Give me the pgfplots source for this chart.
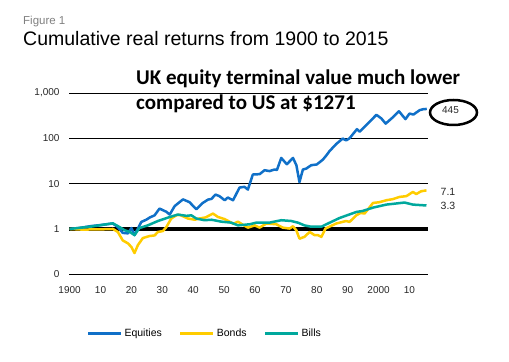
\documentclass[border=0pt]{standalone}
\usepackage{pgfplots}
\pgfplotsset{compat=1.18}
\usepackage{fontspec}
\setmainfont{Liberation Sans}
\newfontfamily\carlito{Carlito}
\definecolor{eqblue}{RGB}{16,112,200}
\definecolor{bdyellow}{RGB}{255,204,0}
\definecolor{blteal}{RGB}{0,168,157}
\definecolor{figgrey}{RGB}{128,128,128}
\begin{document}
\begin{tikzpicture}
\path[use as bounding box] (0,0) rectangle (509bp,362bp);
\node[anchor=base west, inner sep=0, text=figgrey, font=\fontsize{11.5bp}{13bp}\selectfont] at (23bp,337bp) {Figure 1};
\node[anchor=base west, inner sep=0, font=\fontsize{19.5bp}{22bp}\selectfont] at (23bp,316bp) {Cumulative real returns from 1900 to 2015};
\begin{axis}[
  at={(69bp,87.7bp)}, anchor=south west,
  scale only axis, width=359bp, height=181.3bp,
  xmin=1899.8, xmax=2016, ymode=log, ymin=0.1, ymax=1000,
  axis line style={draw=none},
  major tick length=0,
  xtick={1900,1910,1920,1930,1940,1950,1960,1970,1980,1990,2000,2010},
  xticklabels={1900,10,20,30,40,50,60,70,80,90,2000,10},
  ytick={0.1,10,100,1000},
  yticklabels={0,10,100,{1,000}},
  extra y ticks={1}, extra y tick labels={1},
  extra y tick style={grid style={black, line width=4bp}},
  ymajorgrids, grid style={black, line width=0.8bp},
  /pgf/number format/assume math mode=true,
  tick label style={font=\fontsize{10bp}{12bp}\selectfont, text=black!85},
  yticklabel style={xshift=-6bp},
  xticklabel style={yshift=-9bp},
  legend style={draw=none, fill=none, at={(0.04,-0.324)}, anchor=west,
    legend columns=3, font=\fontsize{10.5bp}{12bp}\selectfont,
    /tikz/every even column/.append style={column sep=15bp}},
  legend image code/.code={\draw[#1, line width=3bp] (0bp,0bp) -- (33bp,0bp);},
  every axis plot/.append style={line width=2.5bp, line join=round},
]
\addplot[eqblue] coordinates {(1900,1.0) (1903,1.05) (1907,1.16) (1910,1.22) (1913,1.3) (1914,1.32) (1915.6,1.1) (1917.2,0.82) (1918.9,0.8) (1920,1.05) (1921,0.73) (1923.2,1.43) (1924.8,1.6) (1926,1.8) (1927.5,2.0) (1929.1,2.82) (1930.7,2.5) (1931.3,2.4) (1932.4,2.08) (1934,3.2) (1936.7,4.5) (1938.8,3.9) (1941,2.73) (1943.1,3.75) (1944.8,4.45) (1945.9,4.6) (1947.2,5.74) (1948.5,5.3) (1950.2,4.3) (1951.2,4.94) (1952.9,4.3) (1955,8.2) (1956.6,8.5) (1957.7,7.4) (1959.3,15.9) (1961.5,16.2) (1963.1,19.8) (1964.7,18.9) (1966.3,20.5) (1967.1,20) (1968.5,36.9) (1970.3,26.8) (1972.3,36.9) (1973.4,25.5) (1974.4,10.8) (1975.5,20.5) (1976.6,21.5) (1978.2,25.5) (1980,26.5) (1982,34) (1983.1,42) (1984.1,51.9) (1986.3,75) (1988.4,98.8) (1989.5,90) (1990.6,100) (1993,159) (1993.9,140) (1996.5,211) (1999.3,330) (2000.9,274) (2002.3,211) (2004.6,290) (2006.6,395) (2008.7,265) (2010,351) (2011.3,335) (2013.3,418) (2014.5,440) (2015.6,445)};
\addlegendentry{Equities}
\addplot[bdyellow] coordinates {(1900,1.0) (1904,0.97) (1910,0.98) (1914,1.0) (1915.6,0.86) (1917.2,0.56) (1918.9,0.48) (1920,0.40) (1921,0.295) (1922.1,0.44) (1923.7,0.63) (1925.9,0.70) (1927.5,0.72) (1928.6,0.86) (1930.2,0.9) (1931.3,1.1) (1932.9,1.7) (1934.5,2.0) (1935.6,2.05) (1938.3,1.7) (1940.5,1.6) (1942,1.7) (1944,1.8) (1946.4,2.19) (1948,1.84) (1950.2,1.65) (1953,1.3) (1954.5,1.45) (1956,1.25) (1957.7,1.07) (1959.9,1.2) (1961.5,1.07) (1963.7,1.32) (1966.9,1.27) (1969,1.07) (1971.2,1.02) (1972.3,1.15) (1973.4,0.93) (1974.4,0.61) (1976,0.67) (1977.7,0.86) (1979.3,0.73) (1980.4,0.73) (1981.5,0.67) (1982.8,1.02) (1986.3,1.32) (1989.5,1.5) (1990.6,1.43) (1992.8,2.0) (1994.1,2.25) (1995.5,2.2) (1998.2,3.75) (2000.3,3.9) (2002.5,4.3) (2004.6,4.55) (2006.8,5.1) (2009,5.3) (2011.1,6.56) (2012.2,5.9) (2013.8,6.8) (2015.5,7.1)};
\addlegendentry{Bonds}
\addplot[blteal] coordinates {(1900,1.0) (1907,1.13) (1911.3,1.25) (1914,1.33) (1915.6,1.16) (1917.8,0.94) (1919.5,0.86) (1921,0.73) (1922.6,1.05) (1925.3,1.2) (1928.6,1.5) (1931.8,1.78) (1935,2.08) (1937.8,1.95) (1939.4,2.0) (1941,1.7) (1943.7,1.56) (1945.9,1.6) (1949.1,1.45) (1952.3,1.38) (1954.5,1.2) (1958.3,1.27) (1960.4,1.38) (1964.7,1.38) (1968.5,1.56) (1971.7,1.5) (1973.9,1.38) (1976,1.2) (1978.2,1.12) (1981.5,1.12) (1983.1,1.27) (1987.4,1.75) (1992.8,2.37) (1994.9,2.5) (1998.2,2.96) (2002.5,3.45) (2005.7,3.65) (2008.4,3.83) (2011.1,3.45) (2015.5,3.3)};
\addlegendentry{Bills}
\end{axis}
\node[anchor=base west, inner sep=0, font=\carlito\bfseries\fontsize{21bp}{24bp}\selectfont] at (136bp,277bp) {UK equity terminal value much lower};
\node[anchor=base west, inner sep=0, font=\carlito\bfseries\fontsize{21bp}{24bp}\selectfont] at (136bp,252bp) {compared to US at \$1271};
\node[font=\fontsize{10bp}{12bp}\selectfont, text=black!85] at (450.5bp,252bp) {445};
\draw[black, line width=2.5bp] (453.5bp,249.5bp) ellipse [x radius=23.5bp, y radius=12.5bp];
\node[font=\fontsize{10.5bp}{12bp}\selectfont, text=black!85] at (448bp,170.5bp) {7.1};
\node[font=\fontsize{10.5bp}{12bp}\selectfont, text=black!85] at (448bp,156bp) {3.3};
\end{tikzpicture}
\end{document}
